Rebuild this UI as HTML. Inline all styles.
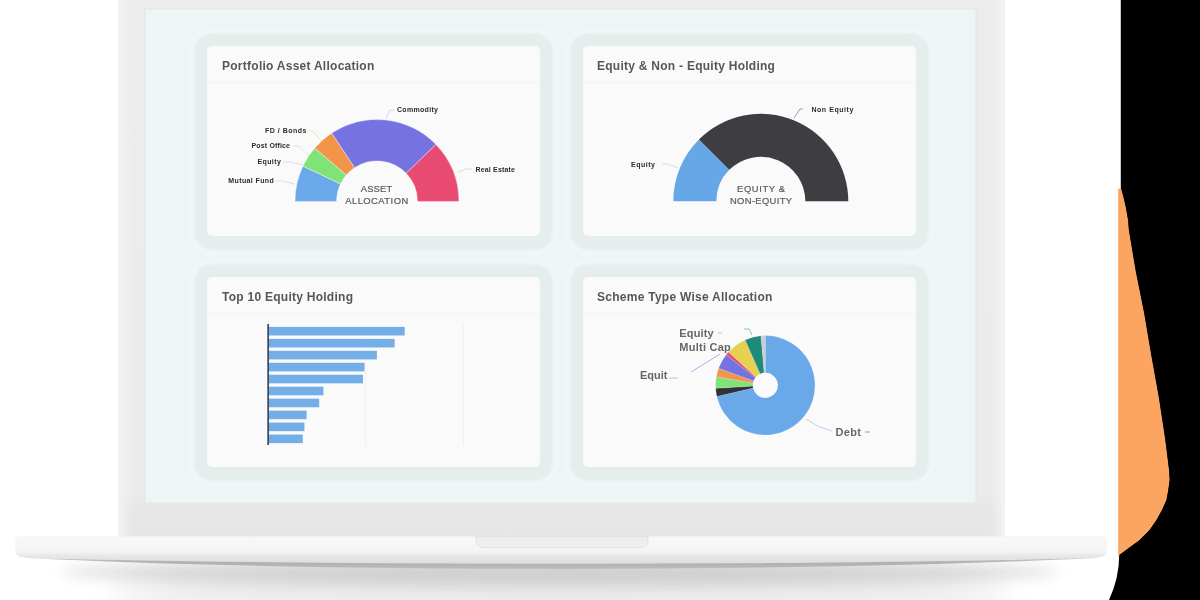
<!DOCTYPE html>
<html lang="en">
<head>
<meta charset="utf-8">
<title>Portfolio Dashboard</title>
<style>
  html, body { margin:0; padding:0; }
  body { width:1200px; height:600px; overflow:hidden; background:#ffffff; position:relative;
         font-family:"Liberation Sans", sans-serif; }
  .abs { position:absolute; }
  /* right decorative art */
  #art { left:0; top:0; width:1200px; height:600px; }
  /* laptop */
  #lid { left:118px; top:-30px; width:887px; height:568px; background:linear-gradient(to bottom, #ececec 0, #ebebeb 92%, #e7e7e7 95%, #e6e6e6 100%); border-radius:14px 14px 0 0;
         box-shadow: inset 12px 0 8px -5px #f3f3f3, inset -12px 0 8px -5px #f3f3f3; }
  #screen { left:144px; top:8px; width:833px; height:496px; background:#eef5f5; box-shadow:inset 0 0 0 1.5px #e5e8e8; }
  #shadow { left:60px; top:558px; width:1000px; height:28px; border-radius:50%;
            background:rgba(0,0,0,0.13); filter:blur(7px); }
  #shadow2 { left:110px; top:562px; width:900px; height:64px; border-radius:50%;
            background:rgba(0,0,0,0.075); filter:blur(14px); }
  .halo { background:#e6eded; border-radius:18px; box-shadow:0 0 5px 3px #f3f9f9; filter:blur(1.3px); }
  .card { background:#fafafa; border-radius:5px; width:333px; height:190px; }
  .card h3 { position:absolute; margin:0; left:15px; top:12.5px; font-size:12px; line-height:14px; font-weight:bold;
             color:#575757; letter-spacing:0.26px; white-space:nowrap; }
  .card .sep { position:absolute; left:0; right:0; top:36px; height:1px; background:#f2f3f3; }
  svg text { font-family:"Liberation Sans", sans-serif; }
  .lbl { font-size:7px; font-weight:bold; fill:#2c2c2c; }
  .ctr { font-size:9.4px; fill:#5e5e5e; stroke:#5e5e5e; stroke-width:0.22px; }
  .plbl { font-size:11px; font-weight:bold; fill:#666; }
</style>
</head>
<body>
<svg id="art" class="abs" width="1200" height="600" viewBox="0 0 1200 600">
  <path d="M1120.8 0 H1200 V600 H1109 Q1119.2 578 1119.2 555 L1118.4 555.2 L1120 554 L1128 548 L1139 540 L1149 530 L1156 520 L1161.5 510 L1166 500 L1167.8 490 L1169.2 480 L1168.6 470 L1164.6 438 L1158.3 396.7 L1150.8 355 L1143.7 313 L1135.4 271.7 L1128.4 230 L1127.6 220 L1125.5 208 L1123 197 L1120.8 189 Z" fill="#000000"/>
  <path d="M1118.4 189 L1120.8 189 L1123 197 L1125.5 208 L1127.6 220 L1128.4 230 L1135.4 271.7 L1143.7 313 L1150.8 355 L1158.3 396.7 L1164.6 438 L1168.6 470 L1169.2 480 L1167.8 490 L1166 500 L1161.5 510 L1156 520 L1149 530 L1139 540 L1128 548 L1120 554 L1118.4 555.2 Z" fill="#fca561" stroke="#fca561" stroke-width="0.5"/>
</svg>

<div id="shadow" class="abs"></div>
<div id="shadow2" class="abs"></div>
<div id="lid" class="abs"></div>
<div id="screen" class="abs"></div>
<svg id="base" class="abs" style="left:0;top:0" width="1200" height="600" viewBox="0 0 1200 600">
  <defs>
    <linearGradient id="bg" x1="0" y1="536" x2="0" y2="568" gradientUnits="userSpaceOnUse">
      <stop offset="0" stop-color="#f3f3f3"/><stop offset="0.08" stop-color="#f8f8f8"/><stop offset="0.5" stop-color="#f4f4f4"/>
      <stop offset="0.54" stop-color="#efefef"/><stop offset="0.62" stop-color="#e7e7e7"/><stop offset="0.86" stop-color="#dedede"/><stop offset="1" stop-color="#d6d6d6"/>
    </linearGradient>
    <linearGradient id="dg" x1="0" y1="558" x2="0" y2="569" gradientUnits="userSpaceOnUse">
      <stop offset="0" stop-color="#c6c6c6"/><stop offset="0.45" stop-color="#b0b0b0"/><stop offset="1" stop-color="#bdbdbd"/>
    </linearGradient>
    <linearGradient id="ng" x1="0" y1="536" x2="0" y2="548" gradientUnits="userSpaceOnUse">
      <stop offset="0" stop-color="#ececec"/><stop offset="1" stop-color="#f1f1f1"/>
    </linearGradient>
  </defs>
  <path d="M15 540 Q15 536.5 18.5 536.5 H1103.5 Q1107 536.5 1107 540 V551 Q1107 557 1095 558 C760 565.8 360 565.8 27 558 Q15 557 15 551 Z" fill="url(#bg)"/>
  <path d="M27 558 C360 565.8 760 565.8 1095 558 C800 572.5 320 572.5 27 558 Z" fill="url(#dg)"/>
  <path d="M476 536.5 H648 V540 Q648 547.5 640 547.5 H484 Q476 547.5 476 540 Z" fill="url(#ng)" stroke="#dddddd" stroke-width="0.8"/>
</svg>

<div id="dash" class="abs" style="left:0;top:0;width:1200px;height:600px;filter:blur(0.45px)">
<div class="abs halo" style="left:194px;top:33px;width:359px;height:217px"></div>
<div class="abs halo" style="left:570px;top:33px;width:359px;height:217px"></div>
<div class="abs halo" style="left:194px;top:264px;width:359px;height:217px"></div>
<div class="abs halo" style="left:570px;top:264px;width:359px;height:217px"></div>

<div class="abs card" style="left:207px;top:46px"><h3>Portfolio Asset Allocation</h3><div class="sep"></div></div>
<div class="abs card" style="left:583px;top:46px"><h3 style="left:14px">Equity &amp; Non - Equity Holding</h3><div class="sep"></div></div>
<div class="abs card" style="left:207px;top:277px"><h3>Top 10 Equity Holding</h3><div class="sep"></div></div>
<div class="abs card" style="left:583px;top:277px"><h3 style="left:14px">Scheme Type Wise Allocation</h3><div class="sep"></div></div>

<svg class="abs" style="left:0;top:0" width="1200" height="600" viewBox="0 0 1200 600">
  <!-- chart 1 -->
  <g stroke="#ffffff" stroke-opacity="0.55" stroke-width="0.7"><path d="M295.00 201.40 A82 82 0 0 1 302.99 166.10 L340.45 183.96 A40.5 40.5 0 0 0 336.50 201.40 Z" fill="#6aa9e9"/><path d="M302.99 166.10 A82 82 0 0 1 314.74 148.04 L346.25 175.04 A40.5 40.5 0 0 0 340.45 183.96 Z" fill="#7fe377"/><path d="M314.74 148.04 A82 82 0 0 1 331.74 133.02 L354.65 167.63 A40.5 40.5 0 0 0 346.25 175.04 Z" fill="#f2954b"/><path d="M331.74 133.02 A82 82 0 0 1 435.99 144.44 L406.13 173.27 A40.5 40.5 0 0 0 354.65 167.63 Z" fill="#7573e1"/><path d="M435.99 144.44 A82 82 0 0 1 459.00 201.40 L417.50 201.40 A40.5 40.5 0 0 0 406.13 173.27 Z" fill="#e84a72"/></g>
  <g stroke="#c9d6e6" stroke-width="0.7" fill="none">
    <path d="M276 181 H283 L295 184"/>
    <path d="M283 162 H290 L303 165"/>
    <path d="M293 146 H299 L309 156" stroke="#bfe8bc"/>
    <path d="M309 131 H313 L321 141" stroke="#f3cfae"/>
    <path d="M394 110 H390 L386 119" stroke="#c2c1ee"/>
    <path d="M472 169 H466 L458 172" stroke="#f2b9c7"/>
  </g>
  <text class="lbl" x="228.3" y="183.4" textLength="45.5">Mutual Fund</text>
  <text class="lbl" x="257.5" y="164.1" textLength="23.3">Equity</text>
  <text class="lbl" x="251.5" y="148.3" textLength="38.5">Post Office</text>
  <text class="lbl" x="265" y="132.6" textLength="41.5">FD / Bonds</text>
  <text class="lbl" x="397" y="112.3" textLength="41">Commodity</text>
  <text class="lbl" x="475.4" y="171.5" textLength="39.6">Real Estate</text>
  <text class="ctr" x="360.7" y="191.6" textLength="31.5">ASSET</text>
  <text class="ctr" x="345.2" y="203.8" textLength="63">ALLOCATION</text>

  <!-- chart 2 -->
  <g><path d="M673.30 201.30 A87.5 87.5 0 0 1 698.93 139.43 L729.33 169.83 A44.5 44.5 0 0 0 716.30 201.30 Z" fill="#66a8e7"/><path d="M698.93 139.43 A87.5 87.5 0 0 1 848.30 201.30 L805.30 201.30 A44.5 44.5 0 0 0 729.33 169.83 Z" fill="#3d3d42"/></g>
  <g stroke="#b9c4cf" stroke-width="0.7" fill="none">
    <path d="M662 164 H667 L678 168" stroke="#bcd6f1"/>
    <path d="M803 109 H800 L794 118" stroke="#777"/>
  </g>
  <text class="lbl" x="631" y="166.5" textLength="24">Equity</text>
  <text class="lbl" x="811.4" y="111.5" textLength="42">Non Equity</text>
  <text class="ctr" x="737" y="191.6" textLength="48">EQUITY &amp;</text>
  <text class="ctr" x="730" y="203.8" textLength="62">NON-EQUITY</text>

  <!-- chart 3 -->
  <g stroke="#f0f0f0" stroke-width="1"><path d="M365.5 324 V445"/><path d="M463.5 324 V445"/></g>
  <g><rect x="269" y="326.90" width="135.7" height="8.6" fill="#74aee8"/><rect x="269" y="338.86" width="125.6" height="8.6" fill="#74aee8"/><rect x="269" y="350.82" width="107.9" height="8.6" fill="#74aee8"/><rect x="269" y="362.78" width="95.5" height="8.6" fill="#74aee8"/><rect x="269" y="374.74" width="94.0" height="8.6" fill="#74aee8"/><rect x="269" y="386.70" width="54.4" height="8.6" fill="#74aee8"/><rect x="269" y="398.66" width="50.2" height="8.6" fill="#74aee8"/><rect x="269" y="410.62" width="37.6" height="8.6" fill="#74aee8"/><rect x="269" y="422.58" width="35.4" height="8.6" fill="#74aee8"/><rect x="269" y="434.54" width="33.8" height="8.6" fill="#74aee8"/></g>
  <rect x="267.3" y="324" width="1.7" height="121" fill="#3e4a5c"/>

  <!-- chart 4 -->
  <g stroke="#ffffff" stroke-opacity="0.35" stroke-width="0.4"><path d="M765.30 335.60 A49.7 49.7 0 1 1 716.87 396.48 L753.12 388.11 A12.5 12.5 0 1 0 765.30 372.80 Z" fill="#6aa9e9"/><path d="M716.87 396.48 A49.7 49.7 0 0 1 715.69 388.33 L752.82 386.06 A12.5 12.5 0 0 0 753.12 388.11 Z" fill="#2f3238"/><path d="M715.69 388.33 A49.7 49.7 0 0 1 716.36 376.67 L752.99 383.13 A12.5 12.5 0 0 0 752.82 386.06 Z" fill="#7fe377"/><path d="M716.36 376.67 A49.7 49.7 0 0 1 718.60 368.30 L753.55 381.02 A12.5 12.5 0 0 0 752.99 383.13 Z" fill="#f2954b"/><path d="M718.60 368.30 A49.7 49.7 0 0 1 726.14 354.70 L755.45 377.60 A12.5 12.5 0 0 0 753.55 381.02 Z" fill="#7573e1"/><path d="M726.14 354.70 A49.7 49.7 0 0 1 728.37 352.04 L756.01 376.94 A12.5 12.5 0 0 0 755.45 377.60 Z" fill="#e84a72"/><path d="M728.37 352.04 A49.7 49.7 0 0 1 745.09 339.90 L760.22 373.88 A12.5 12.5 0 0 0 756.01 376.94 Z" fill="#e6d04f"/><path d="M745.09 339.90 A49.7 49.7 0 0 1 760.97 335.79 L764.21 372.85 A12.5 12.5 0 0 0 760.22 373.88 Z" fill="#1f8a7b"/><path d="M760.97 335.79 A49.7 49.7 0 0 1 765.30 335.60 L765.30 372.80 A12.5 12.5 0 0 0 764.21 372.85 Z" fill="#c9cdd3"/></g>
  <g stroke-width="0.9" fill="none">
    <path d="M691 372 L720 354" stroke="#a9a1ea"/>
    <path d="M806 419 Q818 428 832 431" stroke="#b7cbe6"/>
    <path d="M744 329 H749 L752 335" stroke="#7fb9b0"/>
    <path d="M669 378 H678" stroke="#bbb"/>
    <path d="M718 333 H722" stroke="#bbb"/>
    <path d="M865 432 H870" stroke="#999"/>
  </g>
  <text class="plbl" x="679.3" y="337" textLength="34.3">Equity</text>
  <text class="plbl" x="679.3" y="351" textLength="51.5">Multi Cap</text>
  <text class="plbl" x="640" y="378.5" textLength="27.5">Equit</text>
  <text class="plbl" x="835.5" y="436" textLength="25.5">Debt</text>
</svg>
</div>
</body>
</html>
